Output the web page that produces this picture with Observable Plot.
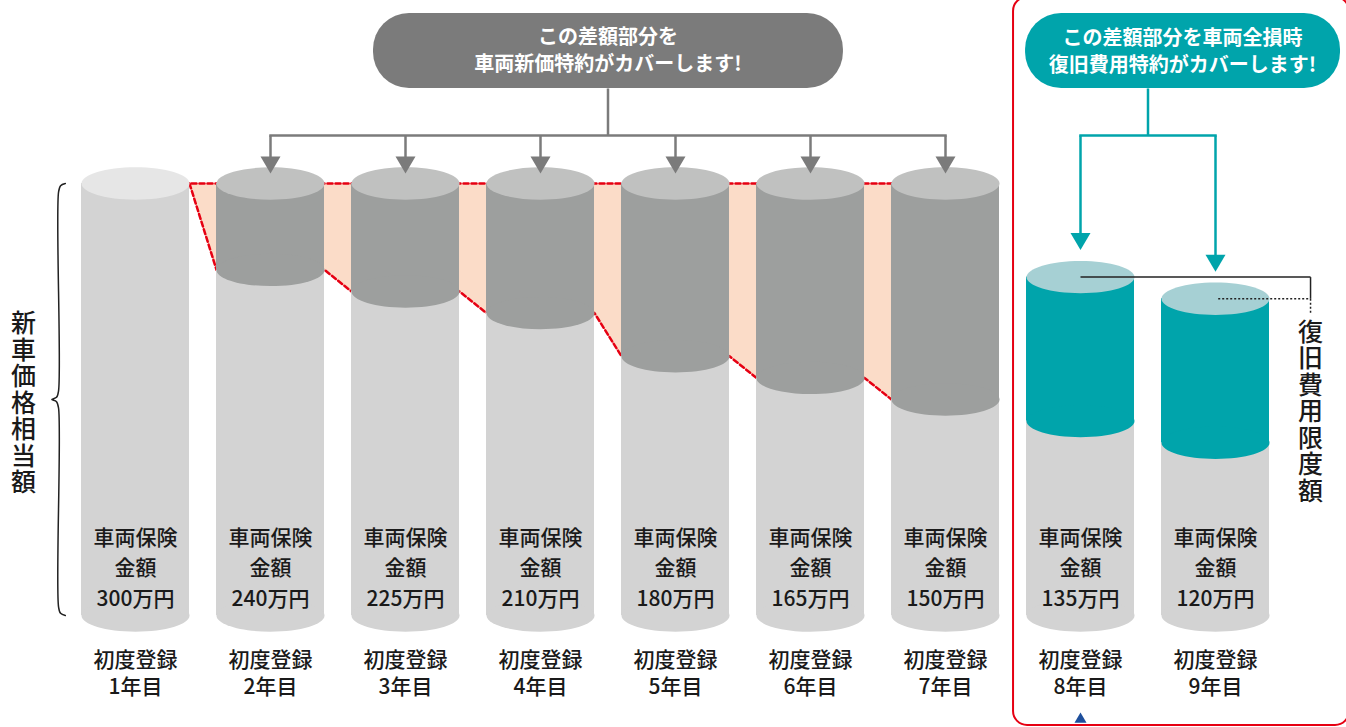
<!DOCTYPE html>
<html lang="ja">
<head>
<meta charset="utf-8">
<script src="https://cdn.jsdelivr.net/npm/d3@7"></script>
<script src="https://cdn.jsdelivr.net/npm/@observablehq/plot@0.6"></script>
<style>
  html, body { margin: 0; padding: 0; background: #fff; }
  #chart svg { display: block; }
  #chart svg .vlabel text { writing-mode: vertical-rl; text-orientation: upright; letter-spacing: 1.5px; }
</style>
</head>
<body>
<div id="chart"></div>
<script>
// ---- data ----
const years = ["1年目", "2年目", "3年目", "4年目", "5年目", "6年目", "7年目", "8年目", "9年目"];
const insuredAmount = [300, 240, 225, 210, 180, 165, 150, 135, 120];   // 車両保険金額 (万円)
const newCarPrice = 300;                                               // 新車価格相当額
const restoreLimit = [null, null, null, null, null, null, null, 235, 220]; // 復旧費用限度額
const labelTop = "車両保険";
const labelMid = "金額";
const labelRow = "初度登録";
const calloutGray = ["この差額部分を", "車両新価特約がカバーします!"];
const calloutTeal = ["この差額部分を車両全損時", "復旧費用特約がカバーします!"];
const leftLabel = "新車価格相当額";
const rightLabel = "復旧費用限度額";

// ---- derived tables ----
const cyl = years.map((y, k) => ({i: k + 1, year: y, v: insuredAmount[k], r: restoreLimit[k]}));
const firstCyl = cyl.filter(d => d.i === 1);
const gapCyl = cyl.filter(d => d.i >= 2 && d.i <= 7);
const restCyl = cyl.filter(d => d.r != null);
const HW = 0.4; // half width of a cylinder in x units

// polyline of the price drop (from right edge of year 1 to left edge of year 7)
const dropPts = [];
cyl.filter(d => d.i <= 7).forEach(d => {
  if (d.i > 1) dropPts.push({x: d.i - HW, v: d.v});
  if (d.i < 7) dropPts.push({x: d.i + HW, v: d.v});
});

// custom symbols
const K = 0.5523;
const ellipse = {draw(ctx, size) {
  const rx = Math.sqrt(size / Math.PI), ry = rx * 0.3;
  ctx.moveTo(rx, 0);
  ctx.bezierCurveTo(rx, ry * K, rx * K, ry, 0, ry);
  ctx.bezierCurveTo(-rx * K, ry, -rx, ry * K, -rx, 0);
  ctx.bezierCurveTo(-rx, -ry * K, -rx * K, -ry, 0, -ry);
  ctx.bezierCurveTo(rx * K, -ry, rx, -ry * K, rx, 0);
  ctx.closePath();
}};
const triDown = {draw(ctx, size) {
  const r = Math.sqrt(size / Math.PI);
  ctx.moveTo(0, 0); ctx.lineTo(-r, -1.7 * r); ctx.lineTo(r, -1.7 * r); ctx.closePath();
}};
const triUp = {draw(ctx, size) {
  const r = Math.sqrt(size / Math.PI);
  ctx.moveTo(0, 0); ctx.lineTo(-r, 1.7 * r); ctx.lineTo(r, 1.7 * r); ctx.closePath();
}};

const C = {
  body: "#d3d3d3", firstTop: "#e6e6e6", darkSide: "#9d9f9e", darkTop: "#c0c1c0",
  teal: "#00a4ab", tealTop: "#a6d0d4", peach: "#fbdcc8", red: "#e60012",
  gray: "#7b7b7b", text: "#1a1a1a"
};
const FONT = "'Noto Sans CJK JP', 'Noto Sans', sans-serif";
const R = 54; // ellipse radius in px (= HW * 135)

// annotation anchor helpers (data units)
const arrowTipGray = newCarPrice + 6.9;
const connectorY = 333.3;
const pillY1 = 366, pillY2 = 418;
const VFS = 25;
const line1Y = 401.4, line2Y = 382.6; // callout line centres (px 37 / 64)

const grayLines = calloutGray.map((t, k) => ({t, y: k === 0 ? line1Y : line2Y}));
const tealLines = calloutTeal.map((t, k) => ({t, y: k === 0 ? line1Y - 0.5 : line2Y - 0.5}));

const chart = Plot.plot({
  width: 1346,
  height: 727,
  margin: 0,
  x: {domain: [1, 9], range: [135, 1215], axis: null},
  y: {domain: [0, 300], range: [615, 183], axis: null},
  style: {fontFamily: FONT, background: "#fff"},
  marks: [
    // peach gap area + red dashed lines
    Plot.areaY(dropPts, {x: "x", y1: () => newCarPrice, y2: "v", fill: C.peach}),
    Plot.line([{x: 1, v: newCarPrice}, {x: 7, v: newCarPrice}], {x: "x", y: "v", stroke: C.red, strokeWidth: 2.5, strokeDasharray: "5,3"}),
    Plot.line(dropPts, {x: "x", y: "v", stroke: C.red, strokeWidth: 2.5, strokeDasharray: "5,3"}),

    // light body
    Plot.rect(cyl, {x1: d => d.i - HW, x2: d => d.i + HW, y1: () => 0, y2: "v", fill: C.body}),
    Plot.dot(cyl, {x: "i", y: () => 0, r: R, symbol: ellipse, fill: C.body, stroke: "none"}),

    // dark gap part (years 2-7)
    Plot.rect(gapCyl, {x1: d => d.i - HW, x2: d => d.i + HW, y1: "v", y2: () => newCarPrice, fill: C.darkSide}),
    Plot.dot(gapCyl, {x: "i", y: "v", r: R, symbol: ellipse, fill: C.darkSide, stroke: "none"}),
    Plot.dot(gapCyl, {x: "i", y: () => newCarPrice, r: R, symbol: ellipse, fill: C.darkTop, stroke: "none"}),

    // year 1 top
    Plot.dot(firstCyl, {x: "i", y: "v", r: R, symbol: ellipse, fill: C.firstTop, stroke: "none"}),

    // teal restore part (years 8-9)
    Plot.rect(restCyl, {x1: d => d.i - HW, x2: d => d.i + HW, y1: "v", y2: "r", fill: C.teal}),
    Plot.dot(restCyl, {x: "i", y: "v", r: R, symbol: ellipse, fill: C.teal, stroke: "none"}),
    Plot.dot(restCyl, {x: "i", y: "r", r: R, symbol: ellipse, fill: C.tealTop, stroke: "none"}),

    // labels inside cylinders
    Plot.text(cyl, {x: "i", y: () => 0, dy: -50, text: d => `${labelTop}\n${labelMid}\n${d.v}万円`,
      fontSize: 21, fontWeight: 500, lineHeight: 1.45, fill: C.text}),
    // labels below
    Plot.text(cyl, {x: "i", y: () => 0, dy: 56, text: d => `${labelRow}\n${d.year}`,
      fontSize: 21, fontWeight: 500, lineHeight: 1.29, fill: C.text}),

    // ---- gray callout ----
    Plot.rect([0], {x1: () => 2.763, x2: () => 6.244, y1: () => pillY1, y2: () => pillY2, rx: 36, fill: C.gray}),
    Plot.text(grayLines, {x: () => 4.5, y: "y", text: "t", fill: "#fff", fontWeight: "bold", fontSize: 20}),
    Plot.link([0], {x1: () => 4.5, x2: () => 4.5, y1: () => pillY1, y2: () => connectorY, stroke: C.gray, strokeWidth: 2.5}),
    Plot.link([0], {x1: () => 2, x2: () => 7, y1: () => connectorY, y2: () => connectorY, stroke: C.gray, strokeWidth: 2.5, strokeLinecap: "square"}),
    Plot.link(gapCyl, {x1: "i", x2: "i", y1: () => connectorY, y2: () => arrowTipGray + 8, stroke: C.gray, strokeWidth: 2.5}),
    Plot.dot(gapCyl, {x: "i", y: () => arrowTipGray, r: 10, symbol: triDown, fill: C.gray, stroke: "none"}),

    // ---- teal callout ----
    Plot.rect([0], {x1: () => 7.593, x2: () => 9.926, y1: () => pillY1, y2: () => pillY2, rx: 36, fill: C.teal}),
    Plot.text(tealLines, {x: () => 8.756, y: "y", text: "t", fill: "#fff", fontWeight: "bold", fontSize: 20}),
    Plot.link([0], {x1: () => 8.5, x2: () => 8.5, y1: () => pillY1, y2: () => connectorY, stroke: C.teal, strokeWidth: 2.5}),
    Plot.link([0], {x1: () => 8, x2: () => 9, y1: () => connectorY, y2: () => connectorY, stroke: C.teal, strokeWidth: 2.5, strokeLinecap: "square"}),
    Plot.link(restCyl, {x1: "i", x2: "i", y1: () => connectorY, y2: d => d.r + 18.8 + 8, stroke: C.teal, strokeWidth: 2.5}),
    Plot.dot(restCyl, {x: "i", y: d => d.r + 18.8, r: 10, symbol: triDown, fill: C.teal, stroke: "none"}),

    // ---- right bracket: 復旧費用限度額 ----
    Plot.link([0], {x1: () => 8, x2: () => 9.704, y1: () => restoreLimit[7], y2: () => restoreLimit[7], stroke: "#222", strokeWidth: 1.5}),
    Plot.link([0], {x1: () => 9.704, x2: () => 9.704, y1: () => restoreLimit[7], y2: () => restoreLimit[8], stroke: "#222", strokeWidth: 1.5}),
    Plot.link([0], {x1: () => 9.704, x2: () => 9.704, y1: () => restoreLimit[8], y2: () => restoreLimit[8] - 9.7, stroke: "#222", strokeWidth: 1.5, strokeDasharray: "2,2"}),
    Plot.link([0], {x1: () => 9.02, x2: () => 9.704, y1: () => restoreLimit[8], y2: () => restoreLimit[8], stroke: "#222", strokeWidth: 1.5, strokeDasharray: "2,2"}),
    Plot.text([0], {x: () => 9.704, y: () => 141.5, dy: -0.32 * VFS, text: () => rightLabel, className: "vlabel",
      fontSize: VFS, fontWeight: 500, fill: C.text}),

    // ---- left brace: 新車価格相当額 ----
    Plot.line([
      {x: 0.48, v: 300}, {x: 0.445, v: 298.5}, {x: 0.43, v: 294}, {x: 0.43, v: 156},
      {x: 0.415, v: 151.5}, {x: 0.38, v: 150}, {x: 0.415, v: 148.5}, {x: 0.43, v: 144},
      {x: 0.43, v: 6}, {x: 0.445, v: 1.5}, {x: 0.48, v: 0}
    ], {x: "x", y: "v", stroke: "#222", strokeWidth: 1.5, curve: "catmull-rom"}),
    Plot.text([0], {x: () => 0.17, y: () => 147.6, dy: -0.32 * VFS, text: () => leftLabel, className: "vlabel",
      fontSize: VFS, fontWeight: 500, fill: C.text}),

    // ---- red framing box ----
    Plot.rect([0], {x1: () => 7.504, x2: () => 9.993, y1: () => -76.4, y2: () => 429.2, rx: 14, fill: "none", stroke: C.red, strokeWidth: 2}),
    Plot.dot([0], {x: () => 8, y: () => -67.4, r: 6, symbol: triUp, fill: "#1e4f9c", stroke: "none"})
  ]
});
document.getElementById("chart").appendChild(chart);
</script>
</body>
</html>
